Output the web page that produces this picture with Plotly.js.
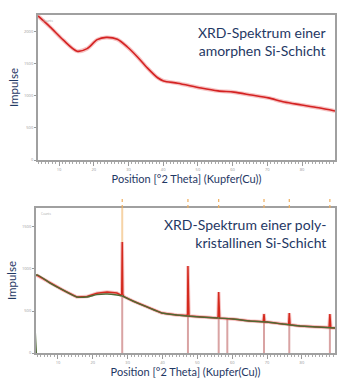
<!DOCTYPE html>
<html><head><meta charset="utf-8">
<script src="https://cdn.plot.ly/plotly-3.0.1.min.js"></script>
<style>html,body{margin:0;padding:0;background:#fff}#chart{width:345px;height:389px}</style>
</head><body><div id="chart"></div>
<script>
// ---- Top: amorphous Si layer (2Theta deg, counts) ----
const amorphX = [3.95, 7.4, 11.2, 15.2, 18.1, 21.0, 23.6, 26.8, 29.7, 32.6, 35.5, 38.4, 40.1, 44.2, 50.9, 55.8, 60.4, 65.4, 70.3, 74.9, 79.9, 84.8, 89.5];
const amorphY = [2250, 2080, 1875, 1700, 1740, 1880, 1915, 1885, 1765, 1610, 1435, 1285, 1235, 1200, 1125, 1080, 1060, 1015, 970, 905, 860, 815, 765];

// ---- Bottom: polycrystalline Si layer, measured data ----
const polyX = [3.8, 7.7, 11.4, 15.4, 18.3, 21.2, 24.1, 26.9, 28.0, 28.3, 28.44, 28.6, 28.9, 31.5, 35.5, 39.8, 44.1, 47.0, 47.2, 47.3, 47.42, 47.6, 50.7, 55.6, 55.95, 56.12, 56.25, 56.4, 60.2, 65.1, 68.9, 69.13, 69.35, 70.0, 74.5, 76.2, 76.38, 76.6, 79.4, 84.3, 87.8, 88.03, 88.3, 89.5];
const polyY = [929, 833, 750, 667, 672, 712, 726, 714, 690, 700, 1321, 700, 672, 619, 548, 476, 452, 445, 470, 1036, 774, 440, 429, 417, 430, 726, 571, 415, 405, 381, 372, 464, 368, 369, 345, 340, 476, 336, 321, 310, 303, 464, 300, 298];

// ---- Bottom: fitted background ----
const bgX = [3.8, 3.8, 7.7, 11.4, 15.4, 18.3, 21.2, 24.1, 26.9, 28.4, 31.5, 35.5, 39.8, 44.1, 47.0, 50.7, 55.6, 60.2, 65.1, 70.0, 74.5, 79.4, 84.3, 89.5];
const bgY = [0, 929, 833, 750, 667, 667, 695, 702, 690, 678, 619, 548, 476, 452, 440, 429, 417, 405, 381, 369, 345, 321, 310, 298];

// ---- Reference pattern sticks ----
const refPos = [28.44, 47.30, 56.12, 58.6, 69.13, 76.38, 88.03];
const refBase = [667, 440, 417, 417, 369, 357, 300];
const siPos = [28.44, 47.30, 56.12, 69.13, 76.38, 88.03];
const mainPeakTop = 1321;

// ---- Axis ticks ----
const xTicks = [10, 20, 30, 40, 50, 60, 70, 80];
const yTicksTop = [0, 500, 1000, 1500, 2000];
const yTicksBot = [0, 500, 1000, 1500];
const yMaxTop = 2265, yMaxBot = 1726;

const navy = '#1F3864';
function sticks(pos, lo, hi) {
  const x = [], y = [];
  pos.forEach((p, i) => { x.push(p, p, null); y.push(Array.isArray(lo) ? lo[i] : lo, Array.isArray(hi) ? hi[i] : hi, null); });
  return {x, y};
}
const pink = sticks(refPos, 0, refBase);
const peachTop = sticks(siPos, 0, 1);
const peachMain = sticks([siPos[0]], mainPeakTop, yMaxBot);

const traces = [
  {x: amorphX, y: amorphY, xaxis: 'x', yaxis: 'y', mode: 'lines', line: {color: 'rgba(235,120,120,0.45)', width: 4, shape: 'spline', smoothing: 0.8}, hoverinfo: 'skip'},
  {x: amorphX, y: amorphY, xaxis: 'x', yaxis: 'y', mode: 'lines', line: {color: '#D42222', width: 1.6, shape: 'spline', smoothing: 0.8}},
  {x: pink.x, y: pink.y, xaxis: 'x2', yaxis: 'y2', mode: 'lines', line: {color: '#D9A3A3', width: 2}, hoverinfo: 'skip'},
  {x: peachMain.x, y: peachMain.y, xaxis: 'x2', yaxis: 'y2', mode: 'lines', line: {color: '#F6D3A6', width: 2}, hoverinfo: 'skip'},
  {x: polyX, y: polyY, xaxis: 'x2', yaxis: 'y2', mode: 'lines', line: {color: 'rgba(235,120,120,0.45)', width: 3.5}, hoverinfo: 'skip'},
  {x: polyX, y: polyY, xaxis: 'x2', yaxis: 'y2', mode: 'lines', line: {color: '#D42A1E', width: 1.5}},
  {x: bgX, y: bgY, xaxis: 'x2', yaxis: 'y2', mode: 'lines', line: {color: '#4E6A34', width: 1.4, shape: 'spline', smoothing: 0.6}},
  {x: peachTop.x, y: peachTop.y, xaxis: 'x3', yaxis: 'y3', mode: 'lines', line: {color: '#EFAE5E', width: 1.2, dash: 'dot'}, hoverinfo: 'skip'}
];

const W = 345, H = 389;
const fx = v => v / W, fy = v => 1 - v / H;
const xCommon = {
  showline: true, mirror: true, linecolor: '#A0A0A0', linewidth: 2, showgrid: false, zeroline: false,
  tickmode: 'array', tickvals: xTicks, ticks: 'outside', ticklen: 4, tickcolor: '#999', tickwidth: 1,
  tickfont: {size: 4, color: '#999'}, automargin: false,
  minor: {dtick: 1, ticks: 'outside', ticklen: 2, tickcolor: '#aaa'},
  title: {text: 'Position [°2 Theta] (Kupfer(Cu))', font: {family: 'Lato, "Open Sans", sans-serif', size: 11, color: navy}, standoff: 2}
};
const yCommon = {
  showline: true, mirror: true, linecolor: '#A0A0A0', linewidth: 2, showgrid: false, zeroline: false,
  tickmode: 'array', ticks: 'outside', ticklen: 2, tickcolor: '#999',
  tickfont: {size: 4, color: '#999'}, automargin: false,
  title: {text: 'Impulse', font: {family: 'Lato, "Open Sans", sans-serif', size: 11.5, color: navy}, standoff: 3}
};

const layout = {
  width: W, height: H, margin: {l: 0, r: 0, t: 0, b: 0},
  paper_bgcolor: '#fff', plot_bgcolor: '#fff', showlegend: false,
  xaxis: Object.assign({}, xCommon, {domain: [fx(38), fx(335)], range: [3.95, 89.5], anchor: 'y'}),
  yaxis: Object.assign({}, yCommon, {domain: [fy(160), fy(15)], range: [0, yMaxTop], tickvals: yTicksTop, anchor: 'x'}),
  xaxis2: Object.assign({}, xCommon, {domain: [fx(36), fx(335)], range: [3.7, 89.5], anchor: 'y2'}),
  yaxis2: Object.assign({}, yCommon, {domain: [fy(353), fy(208)], range: [0, yMaxBot], tickvals: yTicksBot, anchor: 'x2'}),
  xaxis3: {domain: [fx(36), fx(335)], range: [3.7, 89.5], anchor: 'y3', visible: false},
  yaxis3: {domain: [fy(208), fy(198)], range: [0, 1], anchor: 'x3', visible: false},
  annotations: [
    {xref: 'paper', yref: 'paper', x: fx(328), y: fy(42), xanchor: 'right', yanchor: 'middle', align: 'right', showarrow: false,
     text: 'XRD-Spektrum einer<br>amorphen Si-Schicht', font: {family: 'Lato, "Open Sans", sans-serif', size: 14, color: navy}},
    {xref: 'paper', yref: 'paper', x: fx(328), y: fy(234), xanchor: 'right', yanchor: 'middle', align: 'right', showarrow: false,
     text: 'XRD-Spektrum einer poly-<br>kristallinen Si-Schicht', font: {family: 'Lato, "Open Sans", sans-serif', size: 14, color: navy}},
    {xref: 'paper', yref: 'paper', x: fx(41), y: fy(17), xanchor: 'left', yanchor: 'top', showarrow: false, text: 'Counts', font: {size: 3, color: '#aaa'}},
    {xref: 'paper', yref: 'paper', x: fx(39), y: fy(210), xanchor: 'left', yanchor: 'top', showarrow: false, text: 'Counts', font: {size: 3, color: '#aaa'}}
  ]
};

Plotly.newPlot('chart', traces, layout, {staticPlot: true, displayModeBar: false});
</script></body></html>
